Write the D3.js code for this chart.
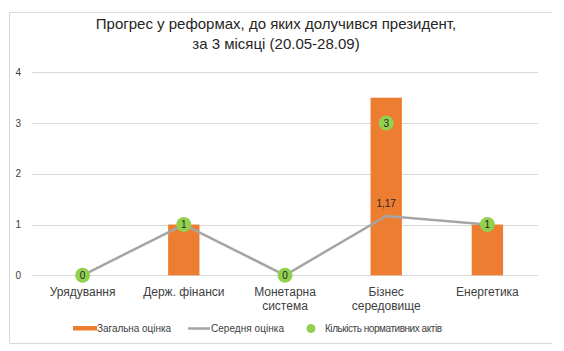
<!DOCTYPE html>
<html>
<head>
<meta charset="utf-8">
<script src="https://cdn.jsdelivr.net/npm/d3@7"></script>
<style>
  body { margin: 0; background: #fff; }
  text { font-family: "Liberation Sans", Arial, sans-serif; }
</style>
</head>
<body>
<svg id="chart" width="564" height="351"></svg>
<script>
// chart data
var categories = [["Урядування"], ["Держ. фінанси"], ["Монетарна", "система"], ["Бізнес", "середовище"], ["Енергетика"]];
var totalScore = [0, 1, 0, 3.5, 1];        // Загальна оцінка (bars)
var avgScore = [0, 1, 0, 1.17, 1];         // Середня оцінка (line)
var actsCount = [0, 1, 0, 3, 1];           // Кількість нормативних актів (dots)
var yTicks = [0, 1, 2, 3, 4];
var titleLines = ["Прогрес у реформах, до яких долучився президент,", "за 3 місяці (20.05-28.09)"];
var legendItems = ["Загальна оцінка", "Середня оцінка", "Кількість нормативних актів"];

var orange = "#ed7d31", grey = "#a5a5a5", green = "#92d050";

var svg = d3.select("#chart");

// outer frame (top, left, bottom)
svg.append("path")
  .attr("d", "M552,12.5H9.5V343.5H552")
  .attr("fill", "none").attr("stroke", "#d9d9d9");

// title
svg.append("g").selectAll("text").data(titleLines).enter().append("text")
  .attr("x", 276).attr("y", function (d, i) { return 29 + i * 20; })
  .attr("text-anchor", "middle").attr("font-size", 15).attr("fill", "#262626")
  .text(function (d) { return d; });

var idx = d3.range(categories.length);
var x = d3.scaleBand().domain(idx).range([32, 538]).paddingInner(0.69).paddingOuter(0.345);
var y = d3.scaleLinear().domain([0, 4]).range([275.3, 72.3]);
var cx = function (i) { return x(i) + x.bandwidth() / 2; };

// grid
svg.append("g").selectAll("line").data(yTicks).enter().append("line")
  .attr("x1", 32).attr("x2", 538)
  .attr("y1", function (d) { return Math.round(y(d)) + 0.5; })
  .attr("y2", function (d) { return Math.round(y(d)) + 0.5; })
  .attr("stroke", "#d9d9d9");

// y axis labels
svg.append("g").selectAll("text").data(yTicks).enter().append("text")
  .attr("x", 21).attr("y", function (d) { return y(d) + 3.5; })
  .attr("text-anchor", "end").attr("font-size", 10).attr("fill", "#404040")
  .text(function (d) { return d; });

// bars
svg.append("g").selectAll("rect").data(totalScore).enter().append("rect")
  .attr("x", function (d, i) { return x(i); })
  .attr("width", x.bandwidth())
  .attr("y", function (d) { return y(d); })
  .attr("height", function (d) { return y(0) - y(d); })
  .attr("fill", orange);

// average line
var line = d3.line().x(function (d, i) { return cx(i); }).y(function (d) { return y(d); });
svg.append("path").datum(avgScore).attr("d", line)
  .attr("fill", "none").attr("stroke", grey).attr("stroke-width", 2.5);

// label for the non-integer average
svg.append("g").selectAll("text").data(avgScore).enter()
  .filter(function (d) { return d % 1 !== 0; })
  .append("text")
  .attr("x", function (d) { return cx(avgScore.indexOf(d)); })
  .attr("y", function (d) { return y(d) - 9; })
  .attr("text-anchor", "middle").attr("font-size", 10).attr("fill", "#262626")
  .text(function (d) { return String(d).replace(".", ","); });

// dots
var dots = svg.append("g").selectAll("g").data(actsCount).enter().append("g")
  .attr("transform", function (d, i) { return "translate(" + cx(i) + "," + y(d) + ")"; });
dots.append("circle").attr("r", 7.5).attr("fill", green);
dots.append("text").attr("y", 3.5).attr("text-anchor", "middle")
  .attr("font-size", 10).attr("fill", "#262626")
  .text(function (d) { return d; });

// x labels
var xl = svg.append("g").selectAll("text").data(categories).enter().append("text")
  .attr("text-anchor", "middle").attr("font-size", 12).attr("fill", "#404040")
  .attr("x", function (d, i) { return cx(i); }).attr("y", 296);
xl.selectAll("tspan").data(function (d) { return d; }).enter().append("tspan")
  .attr("x", function () { return d3.select(this.parentNode).attr("x"); })
  .attr("dy", function (d, i) { return i ? 14 : 0; })
  .text(function (d) { return d; });

// legend
var lg = svg.append("g").attr("font-size", 10).attr("fill", "#404040");
lg.append("rect").attr("x", 73).attr("y", 326).attr("width", 24).attr("height", 4.5).attr("fill", orange);
lg.append("text").attr("x", 97).attr("y", 331.5).attr("textLength", 74).text(legendItems[0]);
lg.append("line").attr("x1", 188).attr("x2", 210).attr("y1", 328.5).attr("y2", 328.5)
  .attr("stroke", grey).attr("stroke-width", 2.5);
lg.append("text").attr("x", 211).attr("y", 331.5).attr("textLength", 73).text(legendItems[1]);
lg.append("circle").attr("cx", 311).attr("cy", 328.5).attr("r", 4.5).attr("fill", green);
lg.append("text").attr("x", 325).attr("y", 331.5).attr("textLength", 117).text(legendItems[2]);
</script>
</body>
</html>
